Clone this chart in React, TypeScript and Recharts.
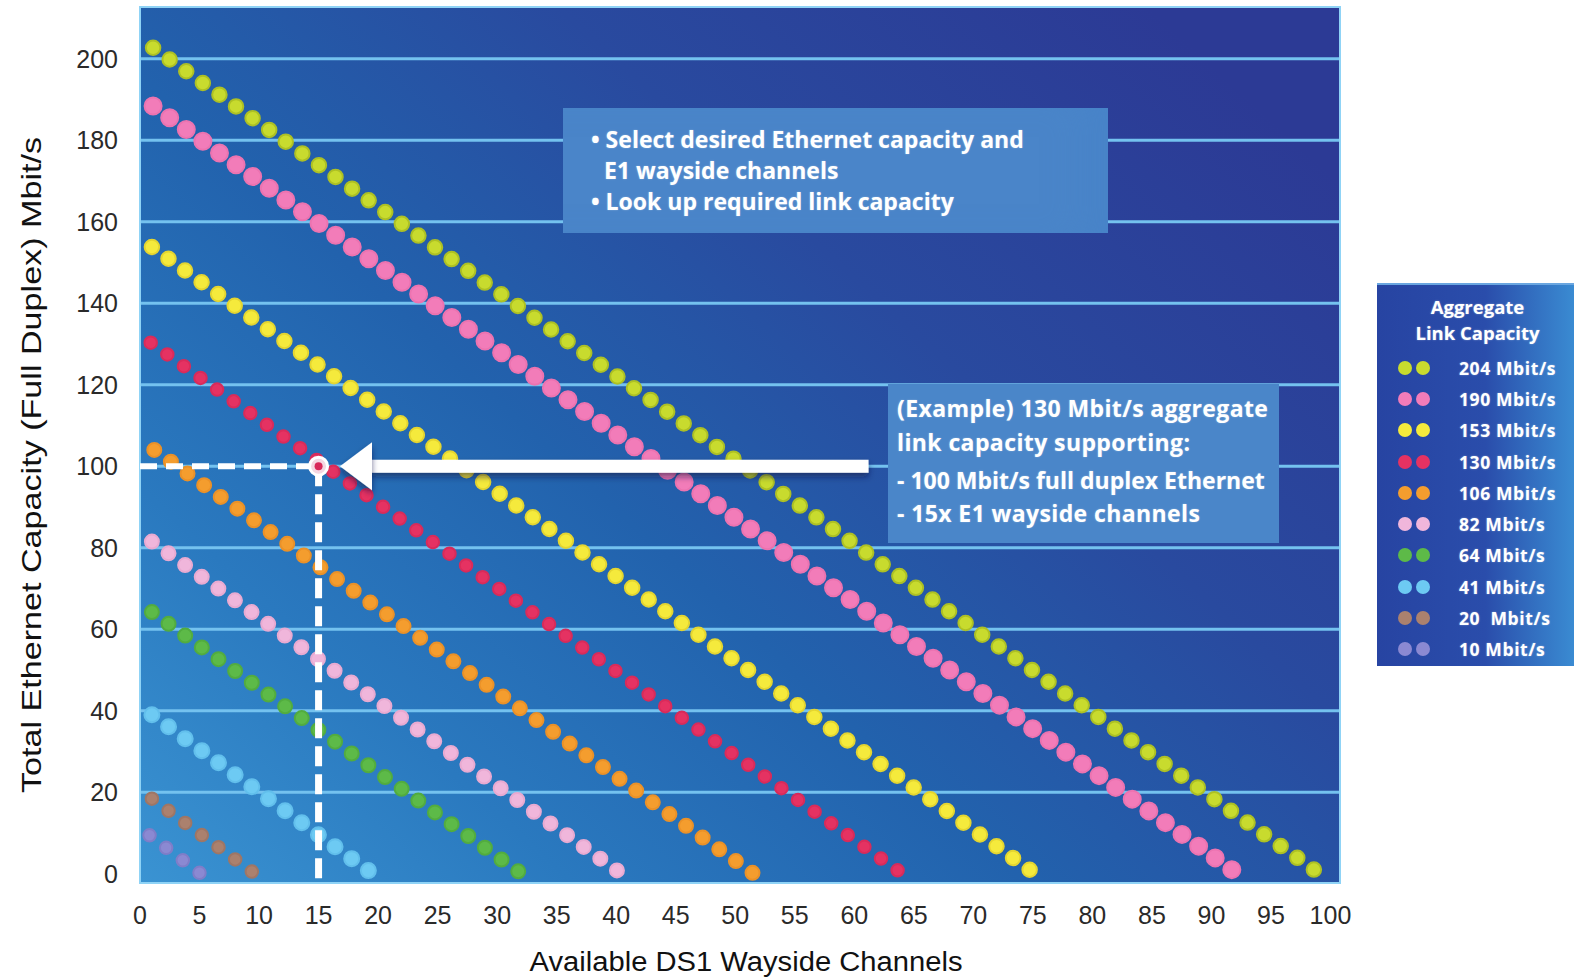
import React from 'react';
import {
  ComposedChart,
  Line,
  XAxis,
  YAxis,
  CartesianGrid,
  ReferenceLine,
  ReferenceDot,
  ReferenceArea,
  Legend,
  Label,
} from 'recharts';

// ---- data ----
const seriesNames = [
  '204 Mbit/s',
  '190 Mbit/s',
  '153 Mbit/s',
  '130 Mbit/s',
  '106 Mbit/s',
  '82 Mbit/s',
  '64 Mbit/s',
  '41 Mbit/s',
  '20  Mbit/s',
  '10 Mbit/s',
];
// first dot of each dotted line (channels, Mbit/s)
const startX = [1.1, 1.1, 1.0, 0.9, 1.2, 1.0, 1.0, 1.0, 1.0, 0.8];
const startY = [202.7, 188.4, 153.8, 130.3, 104.0, 81.5, 64.2, 39.0, 18.4, 9.4];
// last dot of each dotted line
const endX = [98.7, 91.8, 74.8, 63.7, 51.5, 40.1, 31.8, 19.2, 9.4, 5.0];
const endY = [0.8, 0.8, 0.8, 0.7, 0.1, 0.7, 0.5, 0.7, 0.5, 0.2];

const xTicks = [0, 5, 10, 15, 20, 25, 30, 35, 40, 45, 50, 55, 60, 65, 70, 75, 80, 85, 90, 95, 100];
const yTicks = [0, 20, 40, 60, 80, 100, 120, 140, 160, 180, 200];
const gridValues = [20, 40, 60, 80, 100, 120, 140, 160, 180, 200];

// worked example
const exampleEthernet = 100;
const exampleChannels = 15;
const arrowTailX = 61.2;
const arrowHeadBackX = 19.4;
const arrowTipX = 16.8;

// ---- layout / styles ----
const X_DOMAIN = [0, 100.8];
const Y_DOMAIN = [-2.3, 212.7];
const PLOT_W = 1200;
const PLOT_H = 876;

const seriesColors = [
  '#c8db2e',
  '#f27cb9',
  '#f5ea3c',
  '#e53262',
  '#f49d2e',
  '#f0b6db',
  '#5dba48',
  '#6dcaf3',
  '#ab816e',
  '#8b89d2',
];
const ringColors = [
  '#adc024',
  '#ec73b0',
  '#e4d530',
  '#d82b5a',
  '#ea9128',
  '#e8aad1',
  '#52ac3f',
  '#62bfec',
  '#9f7665',
  '#7f7dc8',
];
const dotSize = [16.5, 19, 16.5, 14.5, 16, 16, 16, 17, 14.5, 14.5];
const TARGET_STEP = 20.4; // px between dot centres along each line

const FONT = '"Liberation Sans", Arial, sans-serif';
const BOLD = '"Open Sans", "Noto Sans", sans-serif';

const seriesData = seriesNames.map((name, i) => [
  { x: startX[i], y: startY[i] },
  { x: endX[i], y: endY[i] },
]);

// dash pattern so that dots land on both the first and last point
const dotPattern = seriesNames.map((_, i) => {
  const pxPerX = PLOT_W / (X_DOMAIN[1] - X_DOMAIN[0]);
  const pxPerY = PLOT_H / (Y_DOMAIN[1] - Y_DOMAIN[0]);
  const len = Math.hypot((endX[i] - startX[i]) * pxPerX, (startY[i] - endY[i]) * pxPerY);
  const n = Math.max(1, Math.round(len / TARGET_STEP));
  return `0 ${(len / n - 0.02).toFixed(3)}`;
});

const ArrowHead = (props: any) => {
  const { cx, cy } = props;
  if (cx == null || cy == null) return null;
  return (
    <polygon
      points={`${cx},${cy} ${cx + 32},${cy - 24} ${cx + 32},${cy + 24}`}
      fill="#ffffff"
      filter="url(#shadow)"
    />
  );
};

const renderLegend = (props: any) => {
  const payload = (props.payload || [])
    .filter((p: any) => p.type !== 'none' && seriesNames.indexOf(p.value) >= 0)
    .slice()
    .sort((a: any, b: any) => seriesNames.indexOf(a.value) - seriesNames.indexOf(b.value));
  return (
    <div
      style={{
        width: 197,
        height: 383,
        boxSizing: 'border-box',
        background: 'linear-gradient(90deg, #2744a2 0%, #2a4dab 55%, #3a8bd2 100%)',
        borderTop: '2px solid #6aa6e0',
        paddingTop: 9,
        fontFamily: BOLD,
        fontWeight: 700,
        color: '#ffffff',
        textShadow: '0 0 2px rgba(255,255,255,0.4)',
      }}
    >
      <div style={{ textAlign: 'center', fontSize: 18.5, lineHeight: '26px', paddingLeft: 4 }}>
        Aggregate
        <br />
        Link Capacity
      </div>
      <div style={{ marginTop: 6 }}>
        {payload.map((p: any, i: number) => (
          <div key={i} style={{ display: 'flex', alignItems: 'center', height: 31.3 }}>
            <span
              style={{
                width: 14,
                height: 14,
                borderRadius: '50%',
                background: p.color,
                marginLeft: 21,
                display: 'inline-block',
              }}
            />
            <span
              style={{
                width: 14,
                height: 14,
                borderRadius: '50%',
                background: p.color,
                marginLeft: 4,
                display: 'inline-block',
              }}
            />
            <span style={{ marginLeft: 29, fontSize: 17.5, letterSpacing: 0.6, whiteSpace: 'pre' }}>{p.value}</span>
          </div>
        ))}
      </div>
    </div>
  );
};

const boxText: React.CSSProperties = {
  position: 'absolute',
  fontFamily: BOLD,
  fontWeight: 700,
  color: '#ffffff',
  whiteSpace: 'pre',
  lineHeight: 1,
  textShadow: '0 0 2px rgba(255,255,255,0.35)',
};

export default function App() {
  return (
    <div style={{ position: 'absolute', left: 0, top: 0, width: 1576, height: 977, background: '#ffffff' }}>
      <ComposedChart width={1576} height={977} margin={{ top: 7, right: 236, bottom: 34, left: 15 }}>
        <defs>
          <linearGradient id="plotBg" x1="0" y1="1" x2="1" y2="0.2">
            <stop offset="0%" stopColor="#3a93d2" />
            <stop offset="22%" stopColor="#2a79bf" />
            <stop offset="45%" stopColor="#2262ad" />
            <stop offset="70%" stopColor="#294a9f" />
            <stop offset="100%" stopColor="#2c3a95" />
          </linearGradient>
          <filter id="shadow" filterUnits="userSpaceOnUse" x="0" y="0" width="1576" height="977">
            <feDropShadow dx="0" dy="4" stdDeviation="3" floodColor="#0a1540" floodOpacity="0.55" />
          </filter>
        </defs>
        <CartesianGrid
          fill="url(#plotBg)"
          fillOpacity={1}
          vertical={false}
          horizontalValues={gridValues}
          stroke="#74c2ef"
          strokeWidth={3}
        />
        <XAxis
          type="number"
          dataKey="x"
          domain={X_DOMAIN}
          ticks={xTicks}
          allowDataOverflow
          axisLine={false}
          tickLine={false}
          tickSize={21}
          tickMargin={2}
          height={60}
          interval={0}
          tick={{ fontSize: 25, fontFamily: FONT, fill: '#2a2a2a' }}
        >
          <Label
            content={() => (
              <text
                x={746}
                y={962}
                textAnchor="middle"
                dominantBaseline="central"
                fontSize={27}
                textLength={433}
                lengthAdjust="spacingAndGlyphs"
                fontFamily={FONT}
                fill="#111111"
              >
                Available DS1 Wayside Channels
              </text>
            )}
          />
        </XAxis>
        <YAxis
          type="number"
          dataKey="y"
          domain={Y_DOMAIN}
          ticks={yTicks}
          allowDataOverflow
          axisLine={false}
          tickLine={false}
          tickSize={20}
          tickMargin={2}
          width={125}
          interval={0}
          tick={{ fontSize: 25, fontFamily: FONT, fill: '#2a2a2a' }}
        >
          <Label
            content={() => (
              <text
                x={31}
                y={465}
                transform="rotate(-90 31 465)"
                textAnchor="middle"
                dominantBaseline="central"
                fontSize={28}
                textLength={656}
                lengthAdjust="spacingAndGlyphs"
                fontFamily={FONT}
                fill="#111111"
              >
                Total Ethernet Capacity (Full Duplex) Mbit/s
              </text>
            )}
          />
        </YAxis>
        <ReferenceArea
          x1={X_DOMAIN[0]}
          x2={X_DOMAIN[1]}
          y1={Y_DOMAIN[0]}
          y2={Y_DOMAIN[1]}
          fill="none"
          stroke="#8fd3f6"
          strokeWidth={2}
          ifOverflow="visible"
        />
        {seriesNames.map((name, i) => (
          <Line
            key={`ring-${name}`}
            data={seriesData[i]}
            dataKey="y"
            type="linear"
            stroke={ringColors[i]}
            strokeWidth={dotSize[i]}
            strokeLinecap="round"
            strokeDasharray={dotPattern[i]}
            dot={false}
            activeDot={false}
            legendType="none"
            isAnimationActive={false}
          />
        ))}
        {seriesNames.map((name, i) => (
          <Line
            key={name}
            name={name}
            data={seriesData[i]}
            dataKey="y"
            type="linear"
            stroke={seriesColors[i]}
            strokeWidth={dotSize[i] - 4}
            strokeLinecap="round"
            strokeDasharray={dotPattern[i]}
            dot={false}
            activeDot={false}
            isAnimationActive={false}
          />
        ))}
        <ReferenceLine
          segment={[
            { x: 0, y: exampleEthernet },
            { x: exampleChannels, y: exampleEthernet },
          ]}
          stroke="#ffffff"
          strokeWidth={6}
          strokeDasharray="17 9"
          ifOverflow="visible"
        />
        <ReferenceLine
          segment={[
            { x: exampleChannels, y: exampleEthernet },
            { x: exampleChannels, y: -4.5 },
          ]}
          stroke="#ffffff"
          strokeWidth={7}
          strokeDasharray="20 8"
          ifOverflow="visible"
        />
        <ReferenceDot
          x={exampleChannels}
          y={exampleEthernet}
          r={9}
          fill="#f4d6e2"
          stroke="#ffffff"
          strokeWidth={3}
        />
        <ReferenceDot x={exampleChannels} y={exampleEthernet} r={4} fill="#d8285a" stroke="none" />
        <ReferenceLine
          segment={[
            { x: arrowHeadBackX, y: exampleEthernet },
            { x: arrowTailX, y: exampleEthernet },
          ]}
          stroke="#ffffff"
          strokeWidth={13}
          filter="url(#shadow)"
        />
        <ReferenceDot x={arrowTipX} y={exampleEthernet} r={1} shape={ArrowHead} />
        <Legend
          layout="vertical"
          align="center"
          verticalAlign="middle"
          content={renderLegend}
          wrapperStyle={{ left: 1377, top: 283, width: 197, height: 383 }}
        />
      </ComposedChart>

      {/* instruction box */}
      <div
        style={{
          position: 'absolute',
          left: 563,
          top: 108,
          width: 545,
          height: 125,
          background: '#4a85c9',
          boxShadow: 'inset -40px 0 40px -20px rgba(70,130,200,0.6)',
        }}
      >
        <div style={{ ...boxText, left: 28, top: 20, fontSize: 23 }}>• Select desired Ethernet capacity and</div>
        <div style={{ ...boxText, left: 41, top: 51, fontSize: 23 }}>E1 wayside channels</div>
        <div style={{ ...boxText, left: 28, top: 82, fontSize: 23 }}>• Look up required link capacity</div>
      </div>

      {/* example box */}
      <div
        style={{
          position: 'absolute',
          left: 888,
          top: 384,
          width: 391,
          height: 159,
          background: '#4a86c9',
        }}
      >
        <div style={{ ...boxText, left: 9, top: 13, fontSize: 23, letterSpacing: 0.4 }}>(Example) 130 Mbit/s aggregate</div>
        <div style={{ ...boxText, left: 9, top: 47, fontSize: 23, letterSpacing: 0.4 }}>link capacity supporting:</div>
        <div style={{ ...boxText, left: 9, top: 85, fontSize: 23, letterSpacing: 0 }}>- 100 Mbit/s full duplex Ethernet</div>
        <div style={{ ...boxText, left: 9, top: 118, fontSize: 23, letterSpacing: 0.4 }}>- 15x E1 wayside channels</div>
      </div>
    </div>
  );
}
